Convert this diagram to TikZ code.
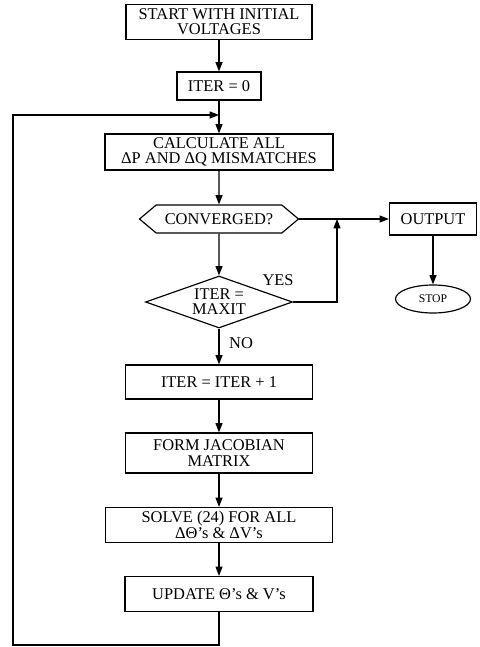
\documentclass[tikz,border=0pt]{standalone}
\usepackage{fontspec}
\setmainfont{Liberation Serif}
\usepackage{tikz}
\usetikzlibrary{shapes.geometric, shapes.symbols, arrows.meta, calc}
\tikzstyle{procbox} = [draw, line width=1pt, align=center, inner sep=2pt]
\tikzstyle{decide} = [draw, line width=1pt, align=center, inner sep=0pt]
\tikzstyle{arrow} = [line width=1pt, -{Triangle[length=8pt, width=6pt]}]
\tikzstyle{flowline} = [line width=1pt]

\begin{document}
\begin{tikzpicture}[x=0.03cm, y=-0.03cm, font=\fontsize{14}{13}\selectfont]
    \useasboundingbox (0,0) rectangle (480,647);

    % Main column
    \node[procbox, minimum width=5.58cm, minimum height=1.05cm] (start) at (219,22) {START WITH INITIAL\\VOLTAGES};
    \node[procbox, minimum width=2.52cm, minimum height=0.84cm] (iter0) at (219,86) {ITER = 0};
    \node[procbox, minimum width=6.84cm, minimum height=1.08cm] (calc) at (219,152) {CALCULATE ALL\\ΔP AND ΔQ MISMATCHES};
    \node[decide, signal, signal to=east and west, signal pointer angle=80,
          minimum width=4.77cm, minimum height=0.84cm] (conv) at (219,219) {CONVERGED?};
    \node[decide, diamond, shape aspect=2.8, minimum width=4.41cm, minimum height=1.56cm] (maxit) at (219,302) {ITER =\\MAXIT};
    \node[procbox, minimum width=5.61cm, minimum height=1.02cm] (inc) at (219,382) {ITER = ITER + 1};
    \node[procbox, minimum width=5.61cm, minimum height=1.2cm] (jac) at (219,453) {FORM JACOBIAN\\MATRIX};
    \node[procbox, minimum width=6.81cm, minimum height=1.05cm] (solve) at (219,525) {SOLVE (24) FOR ALL\\ΔΘ's \& ΔV's};
    \node[procbox, minimum width=5.64cm, minimum height=1.05cm] (update) at (219,594) {UPDATE Θ's \& V's};

    % Output side
    \node[procbox, minimum width=2.61cm, minimum height=0.96cm] (output) at (433,219) {OUTPUT};
    \node[decide, ellipse, minimum width=2.25cm, minimum height=0.84cm, font=\fontsize{10}{10}\selectfont] (stop) at (433,299) {STOP};

    % Labels
    \node (yes) at (278,280) {YES};
    \node (no) at (241,343) {NO};

    % Junctions
    \coordinate (merge) at (337,219);
    \coordinate (loopjoin) at (219,115);
    \coordinate (loopbot) at (13,645);

    % Connectors
    \draw[arrow] (start) -- (iter0);
    \draw[arrow] (iter0) -- (calc);
    \draw[arrow] (calc) -- (conv);
    \draw[arrow] (conv) -- (maxit);
    \draw[arrow] (maxit) -- (inc);
    \draw[arrow] (inc) -- (jac);
    \draw[arrow] (jac) -- (solve);
    \draw[arrow] (solve) -- (update);
    \draw[arrow] (conv.east) -- (output.west);
    \draw[arrow] (output) -- (stop);
    \draw[arrow] (maxit.east) -| (merge);

    % Loop back
    \draw[arrow] (update.south) |- (loopbot) |- (loopjoin);
\end{tikzpicture}
\end{document}
